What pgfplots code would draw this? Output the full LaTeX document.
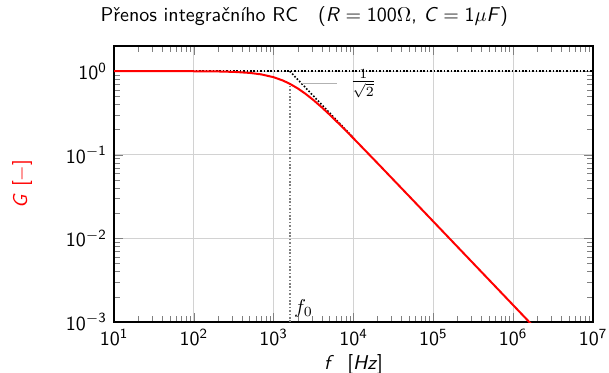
\documentclass[border=0pt]{standalone}
\usepackage{pgfplots}
\pgfplotsset{compat=1.18}
\begin{document}
\sffamily
\begin{tikzpicture}
\begin{loglogaxis}[
  name=ax,
  scale only axis, width=239.5pt, height=138pt,
  xmin=10, xmax=1e7, ymin=1e-3, ymax=2,
  grid=major, major grid style={gray!35, line width=0.5pt},
  axis line style={line width=0.6pt},
  title={Přenos integračního RC\quad(\textit{R}${}={}$100$\Omega$, \textit{C}${}={}$1$\mu$\textit{F})},
  title style={at={(axis description cs:0.397,1)}, anchor=south},
  xlabel={\textit{f}\ \ [\textit{Hz}]},
  xlabel style={yshift=2.5pt},
  ylabel={\textit{G} [$-$]},
  every axis y label/.style={at={(axis description cs:-0.192,0.5)}, rotate=90, anchor=center, red},
  ytick={1e-3,1e-2,1e-1,1},
  yticklabels={$\mathsf{10^{-3}}$,$\mathsf{10^{-2}}$,$\mathsf{10^{-1}}$,$\mathsf{10^{0}}$},
  xtick={10,100,1000,10000,100000,1000000,10000000},
  xticklabels={$\mathsf{10^{1}}$,$\mathsf{10^{2}}$,$\mathsf{10^{3}}$,$\mathsf{10^{4}}$,$\mathsf{10^{5}}$,$\mathsf{10^{6}}$,$\mathsf{10^{7}}$},
]
\addplot[black, thick, dash pattern=on 0.8pt off 0.9pt] coordinates {(10,1) (1e7,1)};
\addplot[black, thick, dash pattern=on 0.8pt off 0.9pt] coordinates {(1591.55,1) (10000,0.159155)};
\addplot[gray, thick, dash pattern=on 0.8pt off 0.9pt] coordinates {(1591.55,0.001) (1591.55,0.7071)};
\addplot[red, line width=1pt] coordinates {
(10,0.99998) (31.6,0.99980) (100,0.99803) (200,0.99220) (316.2,0.98083)
(500,0.95403) (700,0.91537) (1000,0.84673) (1300,0.77447) (1591.55,0.70711)
(2000,0.62268) (2500,0.53703) (3162,0.44957) (4000,0.36970) (5000,0.30331)
(7000,0.22171) (10000,0.15718) (20000,0.079327) (50000,0.031815)
(100000,0.015914) (1000000,0.0015915) (1600000,0.00099471) (1700000,0.00093621)
};
\draw[gray!60, line width=0.6pt] (axis cs:2270,0.7071) -- (axis cs:6225,0.7071)
  node[right, black, xshift=3pt] {$\frac{1}{\sqrt{2}}$};
\node[anchor=south west, inner sep=2pt] at (axis cs:1591.55,0.001) {$f_0$};
\end{loglogaxis}
\pgfresetboundingbox
\path[use as bounding box] ([xshift=-57pt,yshift=-25pt]ax.south west) rectangle ([xshift=8pt,yshift=23pt]ax.north east);
\end{tikzpicture}
\end{document}
